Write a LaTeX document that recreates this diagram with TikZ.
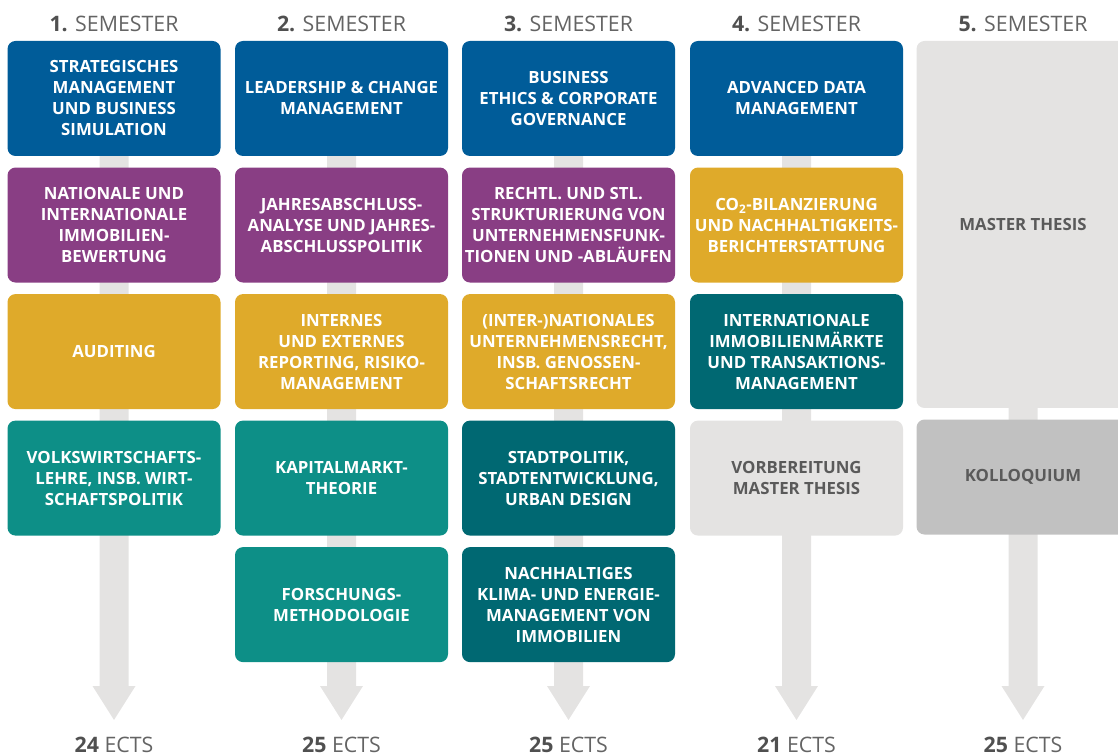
\documentclass[tikz,border=0pt]{standalone}
\usepackage{fontspec}
\setmainfont{Open Sans}
\usepackage{xcolor}
\usepackage{tikz}
\usetikzlibrary{positioning}

\definecolor{modblue}{RGB}{0,92,153}
\definecolor{modpurple}{RGB}{137,62,132}
\definecolor{modgold}{RGB}{223,170,42}
\definecolor{modteal}{RGB}{13,143,135}
\definecolor{moddark}{RGB}{0,104,114}
\definecolor{modlight}{RGB}{228,227,226}
\definecolor{modkollo}{RGB}{193,193,193}
\definecolor{semgray}{RGB}{100,100,100}
\definecolor{numgray}{RGB}{80,80,80}
\definecolor{boxgray}{RGB}{90,90,90}

\tikzset{
  modbox/.style={rectangle, rounded corners=6pt, minimum width=159.75pt, minimum height=86.25pt,
    inner sep=0pt, align=center, text=white, font=\bfseries\fontsize{12.6}{15.75}\selectfont},
  semhead/.style={anchor=base, inner sep=0pt, text=semgray, font=\fontsize{16}{18}\selectfont},
}

\begin{document}
\begin{tikzpicture}[x=0.75pt,y=0.75pt,yscale=-1,xscale=1]
\clip (0,0) rectangle (1118,755);

%Arrows behind the columns
\foreach \cx in {114,341.5,568.5,796.5,1023}
  \fill[modlight] (\cx-14.5,60) -- (\cx+14.5,60) -- (\cx+14.5,686) -- (\cx+21.5,686) -- (\cx,720) -- (\cx-21.5,686) -- (\cx-14.5,686) -- cycle ;

% Semester heads
\node (h1) [semhead] at (114,32) {{\color{numgray}\bfseries 1.} SEMESTER};
\node (h2) [semhead] at (341.5,32) {{\color{numgray}\bfseries 2.} SEMESTER};
\node (h3) [semhead] at (568.5,32) {{\color{numgray}\bfseries 3.} SEMESTER};
\node (h4) [semhead] at (796.5,32) {{\color{numgray}\bfseries 4.} SEMESTER};
\node (h5) [semhead] at (1023,32) {{\color{numgray}\bfseries 5.} SEMESTER};

%1. Semester
\node (s1a) [modbox, fill=modblue] at (114,98.5) {STRATEGISCHES\\MANAGEMENT\\UND BUSINESS\\SIMULATION};
\node (s1b) [modbox, fill=modpurple, below=8.25pt of s1a] {NATIONALE UND\\INTERNATIONALE\\IMMOBILIEN-\\BEWERTUNG};
\node (s1c) [modbox, fill=modgold, below=8.25pt of s1b] {AUDITING};
\node (s1d) [modbox, fill=modteal, below=8.25pt of s1c] {VOLKSWIRTSCHAFTS-\\LEHRE, INSB. WIRT-\\SCHAFTSPOLITIK};

%2. Semester
\node (s2a) [modbox, fill=modblue] at (341.5,98.5) {LEADERSHIP \& CHANGE\\MANAGEMENT};
\node (s2b) [modbox, fill=modpurple, below=8.25pt of s2a] {JAHRESABSCHLUSS-\\ANALYSE UND JAHRES-\\ABSCHLUSSPOLITIK};
\node (s2c) [modbox, fill=modgold, below=8.25pt of s2b] {INTERNES\\UND EXTERNES\\REPORTING, RISIKO-\\MANAGEMENT};
\node (s2d) [modbox, fill=modteal, below=8.25pt of s2c] {KAPITALMARKT-\\THEORIE};
\node (s2e) [modbox, fill=modteal, below=8.25pt of s2d] {FORSCHUNGS-\\METHODOLOGIE};

%3. Semester
\node (s3a) [modbox, fill=modblue] at (568.5,98.5) {BUSINESS\\ETHICS \& CORPORATE\\GOVERNANCE};
\node (s3b) [modbox, fill=modpurple, below=8.25pt of s3a] {RECHTL. UND STL.\\STRUKTURIERUNG VON\\UNTERNEHMENSFUNK-\\TIONEN UND -ABLÄUFEN};
\node (s3c) [modbox, fill=modgold, below=8.25pt of s3b] {(INTER-)NATIONALES\\UNTERNEHMENSRECHT,\\INSB. GENOSSEN-\\SCHAFTSRECHT};
\node (s3d) [modbox, fill=moddark, below=8.25pt of s3c] {STADTPOLITIK,\\STADTENTWICKLUNG,\\URBAN DESIGN};
\node (s3e) [modbox, fill=moddark, below=8.25pt of s3d] {NACHHALTIGES\\KLIMA- UND ENERGIE-\\MANAGEMENT VON\\IMMOBILIEN};

%4. Semester
\node (s4a) [modbox, fill=modblue] at (796.5,98.5) {ADVANCED DATA\\MANAGEMENT};
\node (s4b) [modbox, fill=modgold, below=8.25pt of s4a] {CO\textsubscript{2}-BILANZIERUNG\\UND NACHHALTIGKEITS-\\BERICHTERSTATTUNG};
\node (s4c) [modbox, fill=moddark, below=8.25pt of s4b] {INTERNATIONALE\\IMMOBILIENMÄRKTE\\UND TRANSAKTIONS-\\MANAGEMENT};
\node (s4d) [modbox, fill=modlight, text=boxgray, below=8.25pt of s4c] {VORBEREITUNG\\MASTER THESIS};

%5. Semester
\node (s5a) [modbox, fill=modlight, text=boxgray, minimum height=275.25pt] at (1023,224.5) {MASTER THESIS};
\node (s5b) [modbox, fill=modkollo, text=boxgray, below=8.25pt of s5a] {KOLLOQUIUM};

% ECTS
\node (e1) [semhead] at (114,752) {{\color{numgray}\bfseries 24} ECTS};
\node (e2) [semhead] at (341.5,752) {{\color{numgray}\bfseries 25} ECTS};
\node (e3) [semhead] at (568.5,752) {{\color{numgray}\bfseries 25} ECTS};
\node (e4) [semhead] at (796.5,752) {{\color{numgray}\bfseries 21} ECTS};
\node (e5) [semhead] at (1023,752) {{\color{numgray}\bfseries 25} ECTS};
\end{tikzpicture}
\end{document}
